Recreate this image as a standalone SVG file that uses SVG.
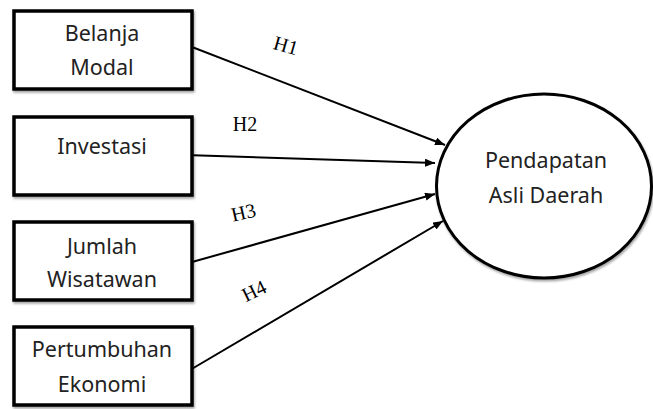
<svg xmlns="http://www.w3.org/2000/svg" width="653" height="409" viewBox="0 0 653 409">
  <defs>
    <marker id="arrow" viewBox="0 0 10 8" refX="10" refY="4" markerWidth="10" markerHeight="8" markerUnits="userSpaceOnUse" orient="auto">
      <path d="M0,0 L10,4 L0,8 Z" fill="#000"/>
    </marker>
    <filter id="shadow" x="-10%" y="-10%" width="120%" height="130%">
      <feDropShadow dx="1" dy="2" stdDeviation="1.2" flood-color="#000" flood-opacity="0.35"/>
    </filter>
  </defs>
  <style>
    .box { fill: #fff; stroke: #000; stroke-width: 3.5; filter: url(#shadow); }
    .node-text { font-family: "Noto Sans", "Open Sans", sans-serif; font-size: 21.5px; fill: #222; text-anchor: middle; }
    .edge { stroke: #000; stroke-width: 2; fill: none; marker-end: url(#arrow); }
    .elabel { font-family: "Liberation Serif", serif; font-size: 20px; fill: #000; text-anchor: middle; }
  </style>
  <rect width="653" height="409" fill="#fff"/>

  <g id="connectors">
    <line class="edge" x1="192" y1="47" x2="445" y2="145"/>
    <line class="edge" x1="185" y1="155" x2="435" y2="163"/>
    <line class="edge" x1="192" y1="262" x2="435" y2="194"/>
    <line class="edge" x1="190" y1="370" x2="443" y2="221"/>
    <text class="elabel" transform="translate(284,52) rotate(16)">H1</text>
    <text class="elabel" x="245" y="131">H2</text>
    <text class="elabel" transform="translate(245,219) rotate(-13)">H3</text>
    <text class="elabel" transform="translate(257,297) rotate(-26)">H4</text>
  </g>

  <g id="belanja-modal">
    <rect class="box" x="14" y="11" width="178" height="78"/>
    <text class="node-text" x="102" y="41">Belanja</text>
    <text class="node-text" x="102" y="75">Modal</text>
  </g>
  <g id="investasi">
    <rect class="box" x="14" y="117" width="178" height="78"/>
    <text class="node-text" x="102" y="154">Investasi</text>
  </g>
  <g id="jumlah-wisatawan">
    <rect class="box" x="14" y="222" width="178" height="78"/>
    <text class="node-text" x="102" y="254">Jumlah</text>
    <text class="node-text" x="102" y="287">Wisatawan</text>
  </g>
  <g id="pertumbuhan-ekonomi">
    <rect class="box" x="14" y="327" width="178" height="78"/>
    <text class="node-text" x="102" y="357">Pertumbuhan</text>
    <text class="node-text" x="102" y="392">Ekonomi</text>
  </g>
  <g id="pendapatan-asli-daerah">
    <ellipse cx="544" cy="186" rx="107.5" ry="92" fill="#fff" stroke="#000" stroke-width="3" filter="url(#shadow)"/>
    <text class="node-text" x="546" y="168">Pendapatan</text>
    <text class="node-text" x="546" y="203">Asli Daerah</text>
  </g>
</svg>
